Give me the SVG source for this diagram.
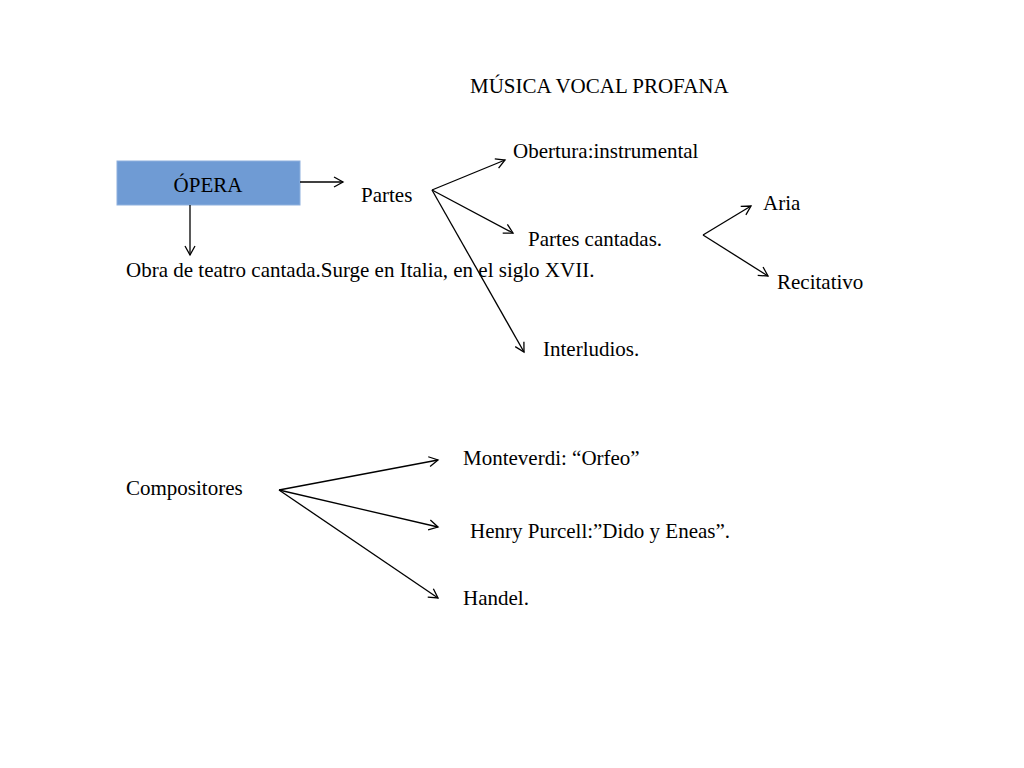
<svg xmlns="http://www.w3.org/2000/svg" width="1024" height="768" viewBox="0 0 1024 768">
<style>
text{font-family:"Liberation Serif","Times New Roman",serif;font-size:21px;fill:#000}
.c line{stroke:#000;stroke-width:1.3;marker-end:url(#a)}
</style>
<defs><marker id="a" markerWidth="12" markerHeight="12" refX="10" refY="6" orient="auto" markerUnits="userSpaceOnUse"><path d="M1,1 L10,6 L1,11" fill="none" stroke="#000" stroke-width="1.3"/></marker></defs>
<rect width="1024" height="768" fill="#fff"/>
<g id="title"><text x="470" y="93">MÚSICA VOCAL PROFANA</text></g>
<g id="opera"><rect x="117" y="161" width="183" height="44" fill="#6f9bd4" stroke="#8eb0de"/><text x="208" y="192" text-anchor="middle">ÓPERA</text></g>
<g id="partes"><text x="361" y="202">Partes</text></g>
<g id="obra"><text x="126" y="277">Obra de teatro cantada.Surge en Italia, en el siglo XVII.</text></g>
<g id="obertura"><text x="513" y="158">Obertura:instrumental</text></g>
<g id="cantadas"><text x="528" y="246">Partes cantadas.</text></g>
<g id="interludios"><text x="543" y="356">Interludios.</text></g>
<g id="aria"><text x="763" y="210">Aria</text></g>
<g id="recitativo"><text x="777" y="289">Recitativo</text></g>
<g id="compositores"><text x="126" y="495">Compositores</text></g>
<g id="monteverdi"><text x="463" y="465">Monteverdi: “Orfeo”</text></g>
<g id="purcell"><text x="470" y="538">Henry Purcell:”Dido y Eneas”.</text></g>
<g id="handel"><text x="463" y="605">Handel.</text></g>
<g class="c" id="connectors">
<line x1="300" y1="182" x2="343" y2="182"/>
<line x1="190" y1="205" x2="190" y2="255"/>
<line x1="432" y1="190" x2="505" y2="160"/>
<line x1="432" y1="190" x2="513" y2="233"/>
<line x1="432" y1="190" x2="524" y2="352"/>
<line x1="703" y1="235" x2="751" y2="206"/>
<line x1="703" y1="235" x2="768" y2="276"/>
<line x1="279" y1="490" x2="438" y2="460"/>
<line x1="279" y1="490" x2="438" y2="527"/>
<line x1="279" y1="490" x2="438" y2="598"/>
</g>
</svg>
